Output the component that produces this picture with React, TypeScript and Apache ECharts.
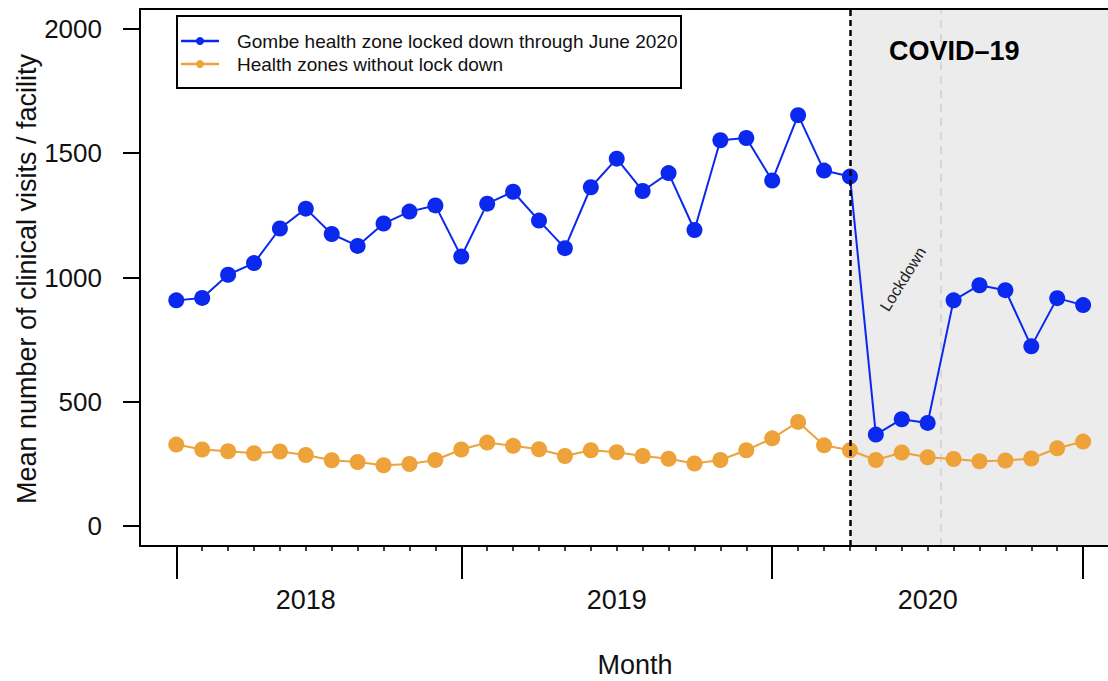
import React, { useEffect, useRef } from "react";
import * as echarts from "echarts";

const months = [
  "2018-01", "2018-02", "2018-03", "2018-04", "2018-05", "2018-06",
  "2018-07", "2018-08", "2018-09", "2018-10", "2018-11", "2018-12",
  "2019-01", "2019-02", "2019-03", "2019-04", "2019-05", "2019-06",
  "2019-07", "2019-08", "2019-09", "2019-10", "2019-11", "2019-12",
  "2020-01", "2020-02", "2020-03", "2020-04", "2020-05", "2020-06",
  "2020-07", "2020-08", "2020-09", "2020-10", "2020-11", "2020-12",
];

const gombe = [
  908, 918, 1011, 1058, 1197, 1277, 1175, 1127, 1217, 1265, 1290, 1084,
  1297, 1345, 1229, 1118, 1363, 1478, 1348, 1420, 1191, 1552, 1561, 1390,
  1653, 1430, 1406, 368, 430, 415, 908, 969, 949, 723, 917, 889,
];

const noLockdown = [
  328, 308, 301, 293, 300, 286, 265, 258, 245, 250, 266, 308,
  336, 323, 309, 282, 305, 297, 282, 271, 252, 266, 305, 353,
  419, 325, 305, 266, 296, 277, 270, 261, 264, 272, 313, 340,
];

const yTicks = [0, 500, 1000, 1500, 2000];
const yearTickIdx = [0, 11, 23, 35];
const yearLabelIdx = [5, 17, 29];
const seriesNames = [
  "Gombe health zone locked down through June 2020",
  "Health zones without lock down",
];

const BLUE = "#0a28ee";
const ORANGE = "#eea23a";
const FONT = "Liberation Sans";

export default function App() {
  const ref = useRef<HTMLDivElement>(null);

  useEffect(() => {
    if (!ref.current) return;
    const chart = echarts.init(ref.current, null, { renderer: "svg" });
    const xMin = -1.4;
    const xMax = 35.96;
    const covidIdx = months.indexOf("2020-03");
    const lockEndIdx = months.indexOf("2020-06") + 0.5;

    const baseX = {
      type: "value",
      min: xMin,
      max: xMax,
      z: 3,
      splitLine: { show: false },
    };

    chart.setOption({
      animation: false,
      backgroundColor: "#fff",
      grid: { left: 140, top: 9, bottom: 135, right: 0, containLabel: false },
      xAxis: [
        {
          ...baseX,
          position: "bottom",
          axisLine: { show: true, onZero: false, lineStyle: { color: "#000", width: 2 } },
          axisTick: {
            show: true,
            customValues: months.map((_, i) => i),
            length: 5,
            lineStyle: { color: "#000", width: 1.5 },
          },
          axisLabel: {
            show: true,
            customValues: yearLabelIdx,
            formatter: (v: number) => months[Math.round(v)].slice(0, 4),
            margin: 40,
            fontSize: 27,
            color: "#111",
            fontFamily: FONT,
          },
        },
        {
          ...baseX,
          position: "bottom",
          axisLine: { show: false, onZero: false },
          axisTick: {
            show: true,
            customValues: yearTickIdx,
            length: 33,
            lineStyle: { color: "#000", width: 2 },
          },
          axisLabel: { show: false },
        },
        {
          ...baseX,
          position: "top",
          axisLine: { show: true, onZero: false, lineStyle: { color: "#000", width: 2 } },
          axisTick: { show: false },
          axisLabel: { show: false },
        },
      ],
      yAxis: {
        type: "value",
        min: -80,
        max: 2080,
        z: 3,
        position: "left",
        splitLine: { show: false },
        axisLine: { show: true, onZero: false, lineStyle: { color: "#000", width: 2 } },
        axisTick: {
          show: true,
          customValues: yTicks,
          length: 17,
          lineStyle: { color: "#000", width: 2 },
        },
        axisLabel: {
          show: true,
          customValues: yTicks,
          formatter: (v: number) => String(v),
          margin: 38,
          fontSize: 26,
          color: "#111",
          fontFamily: FONT,
        },
      },
      series: [
        {
          name: seriesNames[0],
          type: "line",
          data: gombe.map((v, i) => [i, v]),
          symbol: "circle",
          symbolSize: 16,
          lineStyle: { color: BLUE, width: 2 },
          itemStyle: { color: BLUE },
          z: 2,
          markArea: {
            silent: true,
            z: 1,
            itemStyle: { color: "#ececec" },
            data: [[{ xAxis: covidIdx }, { xAxis: xMax }]],
          },
          markLine: {
            silent: true,
            symbol: "none",
            label: { show: false },
            data: [
              { xAxis: covidIdx, lineStyle: { color: "#000", type: [6, 4], width: 2.5 } },
            ],
          },
        },
        {
          name: seriesNames[1],
          type: "line",
          data: noLockdown.map((v, i) => [i, v]),
          symbol: "circle",
          symbolSize: 16,
          lineStyle: { color: ORANGE, width: 2 },
          itemStyle: { color: ORANGE },
          z: 2,
          markLine: {
            silent: true,
            symbol: "none",
            label: { show: false },
            z: 1,
            data: [
              { xAxis: lockEndIdx, lineStyle: { color: "#d0d0d0", type: [8, 6], width: 1.5 } },
            ],
          },
        },
      ],
      graphic: [
        {
          type: "text",
          x: 27,
          y: 279,
          rotation: Math.PI / 2,
          style: {
            text: "Mean number of clinical visits / facility",
            fontSize: 27,
            fontFamily: FONT,
            fill: "#111",
            align: "center",
            verticalAlign: "middle",
          },
        },
        {
          type: "text",
          x: 635,
          y: 665,
          style: {
            text: "Month",
            fontSize: 27,
            fontFamily: FONT,
            fill: "#111",
            align: "center",
            verticalAlign: "middle",
          },
        },
        {
          type: "text",
          x: 889,
          y: 51,
          z: 10,
          style: {
            text: "COVID–19",
            fontSize: 27,
            fontWeight: "bold",
            fontFamily: FONT,
            fill: "#000",
            align: "left",
            verticalAlign: "middle",
          },
        },
        {
          type: "text",
          x: 903,
          y: 279,
          rotation: (58 * Math.PI) / 180,
          z: 10,
          style: {
            text: "Lockdown",
            fontSize: 16,
            fontFamily: FONT,
            fill: "#222",
            align: "center",
            verticalAlign: "middle",
          },
        },
        {
          type: "group",
          z: 10,
          children: [
            {
              type: "rect",
              shape: { x: 177, y: 16, width: 504, height: 72 },
              style: { fill: "#fff", stroke: "#000", lineWidth: 2 },
            },
            {
              type: "line",
              shape: { x1: 181, y1: 41, x2: 219, y2: 41 },
              style: { stroke: BLUE, lineWidth: 2.5 },
            },
            {
              type: "circle",
              shape: { cx: 200, cy: 41, r: 4 },
              style: { fill: BLUE },
            },
            {
              type: "text",
              x: 237,
              y: 41,
              style: {
                text: seriesNames[0],
                fontSize: 19,
                fontFamily: FONT,
                fill: "#111",
                verticalAlign: "middle",
              },
            },
            {
              type: "line",
              shape: { x1: 181, y1: 64, x2: 219, y2: 64 },
              style: { stroke: ORANGE, lineWidth: 2.5 },
            },
            {
              type: "circle",
              shape: { cx: 200, cy: 64, r: 4 },
              style: { fill: ORANGE },
            },
            {
              type: "text",
              x: 237,
              y: 64,
              style: {
                text: seriesNames[1],
                fontSize: 19,
                fontFamily: FONT,
                fill: "#111",
                verticalAlign: "middle",
              },
            },
          ],
        },
      ],
    });

    return () => chart.dispose();
  }, []);

  return (
    <div
      ref={ref}
      style={{ position: "fixed", left: 0, top: 0, width: 1108, height: 681 }}
    />
  );
}
